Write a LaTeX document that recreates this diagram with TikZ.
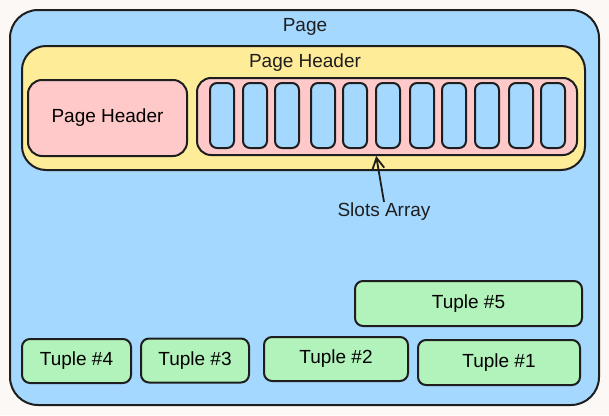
\documentclass[tikz,border=0pt]{standalone}
\usepackage{fontspec}
\setmainfont{Liberation Sans}
\usetikzlibrary{arrows.meta,positioning,calc}
\definecolor{bgc}{HTML}{FCF8F6}
\definecolor{pageblue}{HTML}{A5D8FF}
\definecolor{hdryellow}{HTML}{FFEC99}
\definecolor{hdrpink}{HTML}{FFC9C9}
\definecolor{tuplegreen}{HTML}{B2F2BB}
\definecolor{ink}{HTML}{1E1E1E}
\tikzset{box/.style={draw=ink, line width=2pt, inner sep=0pt, outer sep=0pt}}
\tikzset{tuplebox/.style={box, fill=tuplegreen, rounded corners=8pt, minimum height=44pt, font=\fontsize{19}{19}\selectfont}}
\tikzset{slotbox/.style={box, fill=pageblue, rounded corners=7pt, minimum width=24pt, minimum height=65pt}}
\tikzset{arr/.style={draw=ink, line width=1.8pt, -{Straight Barb[length=11pt,width=12pt]}, shorten >=1pt}}
\tikzset{lbl/.style={text=ink, inner sep=1pt, font=\fontsize{19}{19}\selectfont}}

\begin{document}
\begin{tikzpicture}[x=1pt, y=-1pt]
                \useasboundingbox[fill=bgc] (0,0) rectangle (609,415);
                % page
                \node[box, fill=pageblue, rounded corners=28pt, minimum width=589pt, minimum height=395pt] (Pg) at (304.5,207.5) {};
                \node[lbl] (PgT) at (305,27) {Page};
                % header
                \node[box, fill=hdryellow, rounded corners=24pt, minimum width=563pt, minimum height=124pt] (Hdr) at (303.5,108) {};
                \node[lbl] (HdrT) at (305,63) {Page Header};
                \node[box, fill=hdrpink, rounded corners=14pt, minimum width=159pt, minimum height=76pt, font=\fontsize{19}{19}\selectfont] (HL) at (107.5,118) {Page Header};
                \node[box, fill=hdrpink, rounded corners=14pt, minimum width=380pt, minimum height=77pt] (SA) at (387,116.5) {};
                \foreach \i/\x in {1/222, 2/255, 3/287, 4/323, 5/355, 6/388, 7/422, 8/454, 9/487, 10/521, 11/553}
                    \node[slotbox] (S\i) at (\x,115.5) {};
                \node[lbl] (SL) at (384,212) {Slots Array};
                \draw[arr] (SL.north) to ([xshift=-11pt]SA.south);
                % tuples
                \node[tuplebox, minimum width=227pt, minimum height=45pt] (T5) at (468.5,303.5) {Tuple \#5};
                \node[tuplebox, minimum width=109pt] (T4) at (76.5,361) {Tuple \#4};
                \node[tuplebox, minimum width=108pt] (T3) at (195,360.5) {Tuple \#3};
                \node[tuplebox, minimum width=144pt] (T2) at (336,359) {Tuple \#2};
                \node[tuplebox, minimum width=162pt, minimum height=45pt] (T1) at (499,362.5) {Tuple \#1};
            \end{tikzpicture}
\end{document}
